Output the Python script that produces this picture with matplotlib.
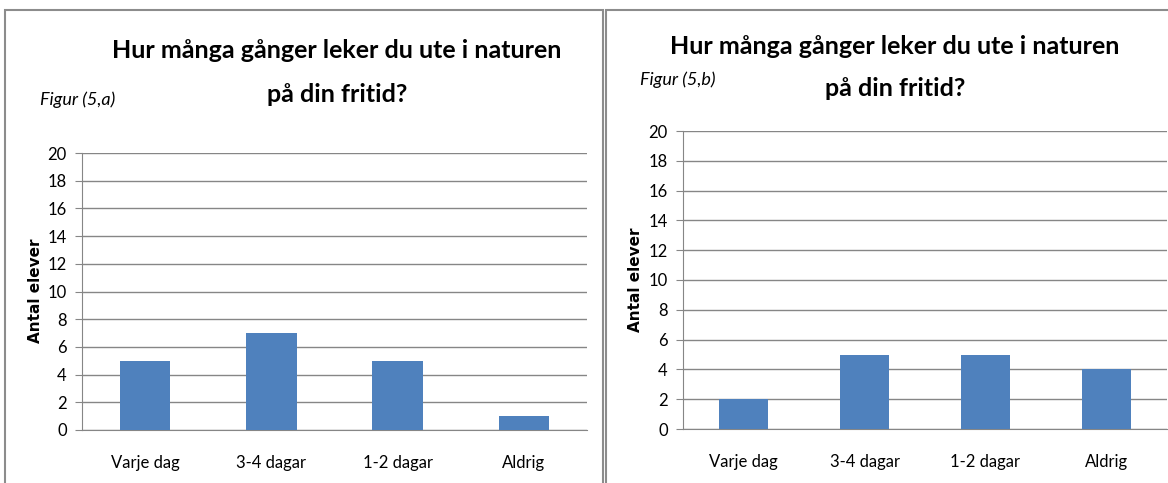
import matplotlib
matplotlib.use("Agg")
import matplotlib.pyplot as plt
from matplotlib.patches import Rectangle

categories = ["Varje dag", "3-4 dagar", "1-2 dagar", "Aldrig"]
values_a = [5, 7, 5, 1]
values_b = [2, 5, 5, 4]
y_ticks = list(range(0, 21, 2))

title_lines = ["Hur många gånger leker du ute i naturen", "på din fritid?"]
ylabel = "Antal elever"

BAR = "#4F81BD"
GRID = "#868686"
FONT = ["Lato", "DejaVu Sans"]

W, H = 1168, 483
fig = plt.figure(figsize=(W / 100, H / 100), dpi=100)


def px_axes(x0, y_top, x1, y_bot):
    return fig.add_axes([x0 / W, 1 - y_bot / H, (x1 - x0) / W, (y_bot - y_top) / H])


def draw_panel(ax, values):
    x = range(len(categories))
    ax.bar(x, values, width=0.4, color=BAR, zorder=3)
    ax.set_xlim(-0.5, len(categories) - 0.5)
    ax.set_ylim(0, 20)
    ax.set_yticks(y_ticks)
    ax.set_yticklabels([str(t) for t in y_ticks], family=FONT, fontsize=12)
    ax.set_xticks(list(x))
    ax.set_xticklabels(categories, family=FONT, fontsize=12)
    ax.tick_params(axis="x", length=0, pad=18)
    ax.tick_params(axis="y", length=5, color=GRID, pad=6)
    ax.grid(axis="y", color=GRID, linewidth=1, zorder=0)
    for s in ["top", "right"]:
        ax.spines[s].set_visible(False)
    for s in ["left", "bottom"]:
        ax.spines[s].set_color(GRID)


def draw_title(cx, y1, y2):
    for line, y in zip(title_lines, (y1, y2)):
        fig.text(cx / W, 1 - y / H, line, ha="center", va="center",
                 fontsize=18, fontweight="bold", family=FONT)


# panel borders
fig.patches.append(Rectangle((5 / W, -0.1), 598 / W, 1 - 10 / H + 0.1,
                             transform=fig.transFigure, fill=False,
                             edgecolor="#8c8c8c", linewidth=1.5))
fig.patches.append(Rectangle((606 / W, -0.1), 600 / W, 1 - 10 / H + 0.1,
                             transform=fig.transFigure, fill=False,
                             edgecolor="#8c8c8c", linewidth=1.5))

ax1 = px_axes(82, 153, 587, 430)
draw_panel(ax1, values_a)
ax2 = px_axes(683, 131, 1167, 429)
draw_panel(ax2, values_b)

draw_title(337, 50, 95)
draw_title(895, 46, 88)

fig.text(40 / W, 1 - 100 / H, "Figur (5,a)", ha="left", va="center",
         fontsize=13, style="italic", family=FONT)
fig.text(640 / W, 1 - 80 / H, "Figur (5,b)", ha="left", va="center",
         fontsize=13, style="italic", family=FONT)

fig.text(36 / W, 1 - 291 / H, ylabel, rotation=90, ha="center", va="center",
         fontsize=11, fontweight="bold")
fig.text(636 / W, 1 - 280 / H, ylabel, rotation=90, ha="center", va="center",
         fontsize=11, fontweight="bold")

fig.savefig("out.png", dpi=100)
